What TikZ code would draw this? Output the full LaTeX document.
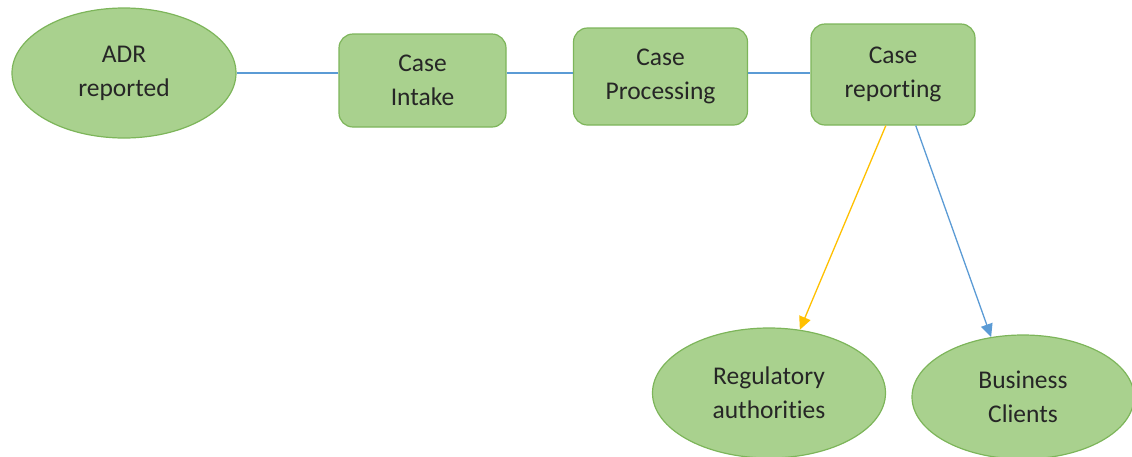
\documentclass[tikz,border=0pt]{standalone}
\usepackage{fontspec}
\setmainfont[RawFeature={-liga;-clig;-calt;-dlig}]{Carlito}
\usetikzlibrary{shapes.geometric,arrows.meta}
\definecolor{leaf}{HTML}{A9D18E}
\definecolor{leafline}{HTML}{7DB55A}
\definecolor{wire}{HTML}{5B9BD5}
\definecolor{amber}{HTML}{FFC000}
\definecolor{ink}{HTML}{262626}
\tikzset{ every node/.style={fill=leaf,draw=leafline,line width=1.2pt,text=ink,align=center,inner sep=0pt,font=\fontsize{25.5}{34}\selectfont},
  blob/.style={ellipse},
  stagebox/.style={rectangle,rounded corners=14pt},
  link/.style={draw=wire,line width=1.3pt},
  feed/.style={line width=1.3pt,-{Triangle[length=13pt,width=12pt]}}}

\begin{document}
\begin{tikzpicture}[x=1pt,y=-1pt]
  \clip (0,0) rectangle (1132,456);
  \foreach \pos/\name/\w/\h/\txt in {{(124,73)/adr/224/130/{ADR\\reported}}, {(769,393)/reg/233/130/{Regulatory\\authorities}}, {(1023,397)/biz/222/124/{Business\\Clients}}}
        \node[blob,minimum width=\w pt,minimum height=\h pt] (\name) at \pos {\txt};
  \foreach \pos/\name/\w/\h/\txt in {{(422.5,80.5)/intake/167/93/{Case\\Intake}}, {(660.5,76.5)/proc/174/97/{Case\\Processing}}, {(893,74.5)/report/164/101/{Case\\reporting}}}
        \node[stagebox,minimum width=\w pt,minimum height=\h pt] (\name) at \pos {\txt};
   \foreach \from/\to in {adr/intake, intake/proc, proc/report}
	\draw [link] (\from.east |- adr.east) -- (\to.west |- adr.east);
   \draw[feed,amber] (report.-98) -- (reg.64);
   \draw[feed,wire] (report.-66) -- (biz.118);
\end{tikzpicture}
\end{document}
